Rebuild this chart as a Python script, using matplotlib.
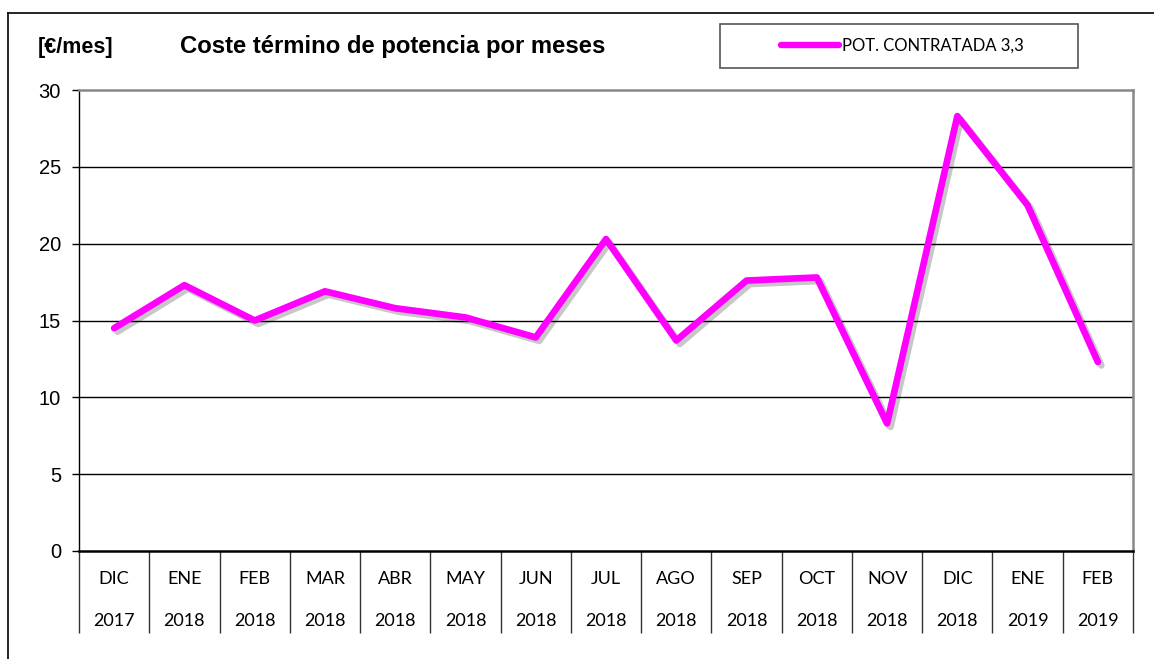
import matplotlib
matplotlib.use("Agg")
import matplotlib.pyplot as plt
import matplotlib.patheffects as pe
from matplotlib.lines import Line2D
from matplotlib.patches import Rectangle

months = ["DIC", "ENE", "FEB", "MAR", "ABR", "MAY", "JUN", "JUL",
          "AGO", "SEP", "OCT", "NOV", "DIC", "ENE", "FEB"]
years = ["2017", "2018", "2018", "2018", "2018", "2018", "2018", "2018",
         "2018", "2018", "2018", "2018", "2018", "2019", "2019"]
values = [14.5, 17.3, 15.0, 16.9, 15.8, 15.2, 13.9, 20.3,
          13.7, 17.6, 17.8, 8.3, 28.3, 22.5, 12.3]
yticks = [0, 5, 10, 15, 20, 25, 30]
series_name = "POT. CONTRATADA 3,3"
title = "Coste término de potencia por meses"
unit = "[€/mes]"

W, H = 1154, 659
fig = plt.figure(figsize=(W / 100, H / 100), dpi=100)
fig.patch.set_facecolor("white")

def fx(px):
    return px / W

def fy(py):
    return 1 - py / H

# outer frame (clipped at right/bottom)
fig.add_artist(Line2D([fx(8), fx(8)], [fy(13), fy(H + 5)], color="black", lw=1.2,
                      transform=fig.transFigure))
fig.add_artist(Line2D([fx(8), fx(W + 5)], [fy(13), fy(13)], color="black", lw=1.2,
                      transform=fig.transFigure))

L, R, T, B = 79, 1133, 90, 551
ax = fig.add_axes([fx(L), fy(B), fx(R) - fx(L), fy(T) - fy(B)])
n = len(values)
xs = [i + 0.5 for i in range(n)]
ax.set_xlim(0, n)
ax.set_ylim(yticks[0], yticks[-1])

for v in yticks[1:-1]:
    ax.axhline(v, color="black", lw=1.0, zorder=1)

ax.plot(xs, values, color="#FF00FF", lw=4.8, solid_joinstyle="round",
        solid_capstyle="round", zorder=3,
        path_effects=[pe.SimpleLineShadow(offset=(2.5, -2.5), shadow_color="black", alpha=0.22),
                      pe.Normal()])

for s in ["top", "right"]:
    ax.spines[s].set_color("#888888")
    ax.spines[s].set_linewidth(1.8)
ax.spines["left"].set_color("black")
ax.spines["left"].set_linewidth(1.0)
ax.spines["bottom"].set_color("black")
ax.spines["bottom"].set_linewidth(1.8)

ax.set_yticks(yticks)
ax.set_yticklabels([str(v) for v in yticks], fontfamily="Liberation Sans", fontsize=14.5)
ax.tick_params(axis="y", direction="out", length=5, width=1, pad=8, color="black")

ax.set_xticks(xs)
ax.set_xticklabels([f"{m}\n{y}" for m, y in zip(months, years)],
                   fontfamily="Lato", fontsize=13, linespacing=3.0)
ax.tick_params(axis="x", which="major", length=0, pad=14.5)
ax.set_xticks(list(range(n + 1)), minor=True)
ax.tick_params(axis="x", which="minor", direction="out", length=59, width=1.0, color="#333333")

# titles
fig.text(fx(38), fy(47), unit, fontfamily="Liberation Sans", fontweight="bold",
         fontsize=15.5, va="center", ha="left")
fig.text(fx(180), fy(47), title, fontfamily="Liberation Sans", fontweight="bold",
         fontsize=17.2, va="center", ha="left")

# legend box
fig.add_artist(Rectangle((fx(720), fy(68)), fx(1078) - fx(720), fy(24) - fy(68),
                         transform=fig.transFigure, facecolor="white",
                         edgecolor="#555555", lw=1.2))
handle = Line2D([], [], color="#FF00FF", lw=4.6, solid_capstyle="round")
leg = fig.legend([handle], [series_name], loc="center",
                 bbox_to_anchor=(fx(902), fy(46)), frameon=False,
                 prop={"family": "Lato", "size": 12}, handlelength=3.5,
                 handletextpad=0.15, borderpad=0)

fig.savefig("out.png", dpi=100, facecolor="white")
